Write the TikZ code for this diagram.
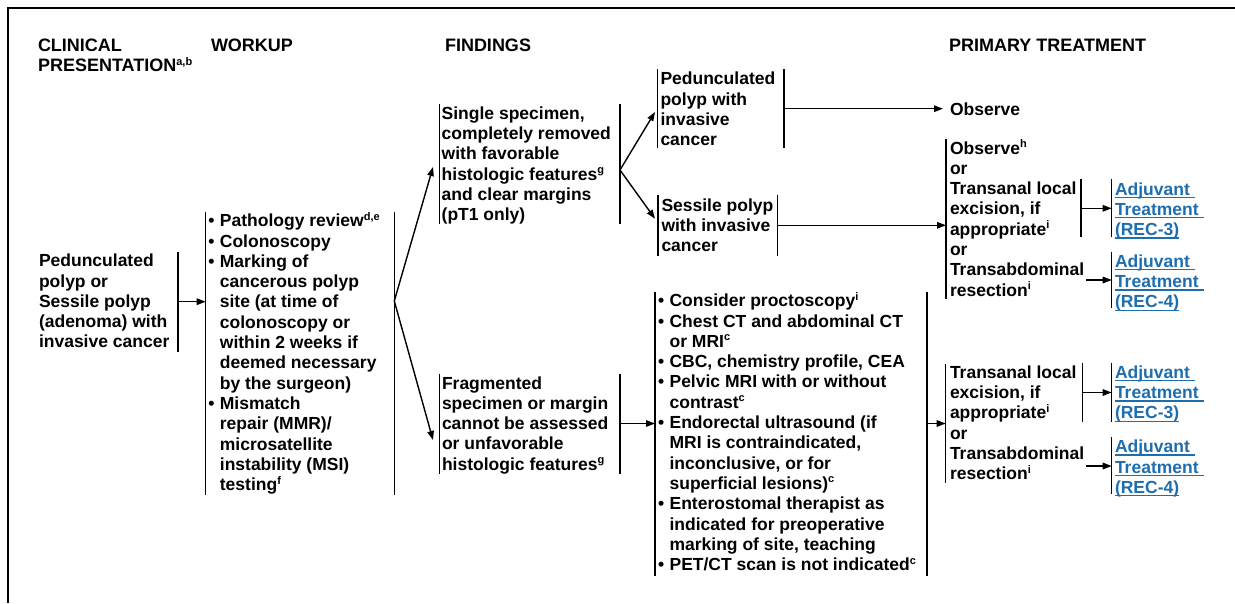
\documentclass[tikz,border=0pt]{standalone}
\usepackage{fontspec}
\setmainfont{Liberation Sans}
\usetikzlibrary{arrows.meta}
\definecolor{linkblue}{RGB}{30,110,175}
\newcommand\bodyfont{\fontsize{17.5}{20.3}\selectfont\bfseries}
\newcommand\hdrfont{\fontsize{18}{20.3}\selectfont\bfseries}
% raised small letters for footnote marks
\newcommand\sps[1]{\raisebox{6.6pt}{\fontsize{11}{11}\selectfont #1}}
% bullet and hanging indent for list lines
\newcommand\blt{\makebox[11.6pt][l]{•}}
\newcommand\hng{\hspace*{11.6pt}}
% a block of lines with a fixed line pitch; baseline = first line
\newcommand\txtlines[1]{\begin{minipage}[t]{330pt}\lineskiplimit=-\maxdimen\lineskip=0pt\relax #1\end{minipage}}
% underlined link text, rule at a fixed depth below the baseline
\newcommand\lk[1]{\leavevmode\setbox0=\hbox{#1}\rlap{\rule[-3pt]{\wd0}{1.3pt}}\box0}

\tikzset{
  bar/.style={draw, line width=1.4pt},
  arr/.style={draw, line width=1.4pt, -{Triangle[length=9pt,width=6.5pt]}},
  bx/.style={rectangle, inner sep=0pt, outer sep=0pt, anchor=north west},
  lrbox/.style={bx, append after command={(\tikzlastnode.north west) edge[bar] (\tikzlastnode.south west)
      (\tikzlastnode.north east) edge[bar] (\tikzlastnode.south east)}},
  lbox/.style={bx, append after command={(\tikzlastnode.north west) edge[bar] (\tikzlastnode.south west)}},
  rbox/.style={bx, append after command={(\tikzlastnode.north east) edge[bar] (\tikzlastnode.south east)}},
  txt/.style={anchor=base west, inner sep=0pt, outer sep=0pt, font=\bodyfont},
  hdr/.style={anchor=base west, inner sep=0pt, outer sep=0pt, font=\hdrfont},
  link/.style={txt, text=linkblue},
}

\begin{document}
\begin{tikzpicture}[x=1pt, y=-1pt]
\useasboundingbox (0,0) rectangle (1235,603);

% page frame
\draw[line width=2.2pt] (1235,8) -- (8,8) -- (8,603);

% column headings
\node[hdr] (hclin) at (38,51.5) {\txtlines{CLINICAL\\PRESENTATION\sps{a,b}}};
\node[hdr] (hwork) at (211,51.5) {WORKUP};
\node[hdr] (hfind) at (445,51.5) {FINDINGS};
\node[hdr] (htreat) at (949,51.5) {PRIMARY TREATMENT};

% bracket boxes
\node[rbox, minimum width=142pt, minimum height=100pt] (clin) at (36,251.7) {};
\node[lrbox, minimum width=188.6pt, minimum height=283.3pt] (wk1) at (205.7,211.7) {};
\node[lrbox, minimum width=180.7pt, minimum height=120pt] (fd1) at (439.3,104) {};
\node[lrbox, minimum width=180.5pt, minimum height=100pt] (fd2) at (439.5,373.5) {};
\node[lrbox, minimum width=126.7pt, minimum height=78.7pt] (ped) at (657.3,69.3) {};
\node[lrbox, minimum width=119.3pt, minimum height=61.3pt] (ses) at (658,194.7) {};
\node[lrbox, minimum width=272pt, minimum height=284.3pt] (wk2) at (655,291.7) {};
\node[lbox, minimum width=130pt, minimum height=160pt] (tr1) at (946,139.3) {};
\node[rbox, minimum width=131pt, minimum height=58pt] (tl1) at (950,179.3) {};
\node[lbox, minimum width=100pt, minimum height=58pt] (r3a) at (1111.7,179.3) {};
\node[lbox, minimum width=100pt, minimum height=56.6pt] (r4a) at (1111.7,251.7) {};
\node[lbox, minimum width=130pt, minimum height=119.3pt] (tr2) at (945.7,364) {};
\node[rbox, minimum width=132.7pt, minimum height=58.4pt] (tl2) at (950,363.3) {};
\node[lbox, minimum width=100pt, minimum height=58.4pt] (r3b) at (1111.7,363.3) {};
\node[lbox, minimum width=100pt, minimum height=56.7pt] (r4b) at (1111.7,437.3) {};

% texts
\node[txt] (clint) at (39,266.7) {\txtlines{Pedunculated\\polyp or\\Sessile polyp\\(adenoma) with\\invasive cancer}};
\node[txt] (wk1t) at (208.3,226.7) {\txtlines{\blt Pathology review\sps{d,e}\\
  \blt Colonoscopy\\
  \blt Marking of\\\hng cancerous polyp\\\hng site (at time of\\\hng colonoscopy or\\
  \hng within 2 weeks if\\\hng deemed necessary\\\hng by the surgeon)\\
  \blt Mismatch\\\hng repair (MMR)/\\\hng microsatellite\\\hng instability (MSI)\\\hng testing\sps{f}}};
\node[txt] (fd1t) at (441.7,119.3) {\txtlines{Single specimen,\\completely removed\\with favorable\\histologic features\sps{g}\\and clear margins\\(pT1 only)}};
\node[txt] (fd2t) at (442,389) {\txtlines{Fragmented\\specimen or margin\\cannot be assessed\\or unfavorable\\histologic features\sps{g}}};
\node[txt] (pedt) at (660.5,84.7) {\txtlines{Pedunculated\\polyp with\\invasive\\cancer}};
\node[txt] (sest) at (661.5,211.3) {\txtlines{Sessile polyp\\with invasive\\cancer}};
\node[txt] (wk2t) at (658,306.7) {\txtlines{\blt Consider proctoscopy\sps{i}\\
  \blt Chest CT and abdominal CT\\\hng or MRI\sps{c}\\
  \blt CBC, chemistry profile, CEA\\
  \blt Pelvic MRI with or without\\\hng contrast\sps{c}\\
  \blt Endorectal ultrasound (if\\\hng MRI is contraindicated,\\\hng inconclusive, or for\\\hng superficial lesions)\sps{c}\\
  \blt Enterostomal therapist as\\\hng indicated for preoperative\\\hng marking of site, teaching\\
  \blt PET/CT scan is not indicated\sps{c}}};
\node[txt] (obs) at (950,115) {Observe};
\node[txt] (tr1t) at (950,154) {\txtlines{Observe\sps{h}\\or\\Transanal local\\excision, if\\appropriate\sps{i}\\or\\Transabdominal\\resection\sps{i}}};
\node[txt] (tr2t) at (950,378.3) {\txtlines{Transanal local\\excision, if\\appropriate\sps{i}\\or\\Transabdominal\\resection\sps{i}}};
\node[link] (r3at) at (1115,195) {\txtlines{\lk{Adjuvant\ }\\\lk{Treatment\ }\\\lk{(REC-3)}}};
\node[link] (r4at) at (1115,267.3) {\txtlines{\lk{Adjuvant\ }\\\lk{Treatment\ }\\\lk{(REC-4)}}};
\node[link] (r3bt) at (1115,378.3) {\txtlines{\lk{Adjuvant\ }\\\lk{Treatment\ }\\\lk{(REC-3)}}};
\node[link] (r4bt) at (1115,452.7) {\txtlines{\lk{Adjuvant\ }\\\lk{Treatment\ }\\\lk{(REC-4)}}};

% connector ends
\coordinate (fan1) at (wk1.east |- 0,301);
\coordinate (fd1in) at (433,167);
\coordinate (fd2in) at (433,440);
\coordinate (fan2) at (fd1.east |- 0,170);
\coordinate (pedin) at (655,112);
\coordinate (sesin) at (655,218.7);
\coordinate (obsin) at (943,108.7);
\coordinate (tab1) at (1086,280);
\coordinate (tab2) at (1086,466);

% connectors
\draw[arr] (clin.east) -- (clin.east -| wk1.west);
\draw[arr] (fan1) -- (fd1in);
\draw[arr] (fan1) -- (fd2in);
\draw[arr] (fan2) -- (pedin);
\draw[arr] (fan2) -- (sesin);
\draw[arr] (ped.east |- obsin) -- (obsin);
\draw[arr] (ses.east |- 0,225.3) -- (tr1.west |- 0,225.3);
\draw[arr] (fd2.east) -- (fd2.east -| wk2.west);
\draw[arr] (wk2.east |- fd2.east) -- (tr2.west |- fd2.east);
\draw[arr] (tl1.east) -- (tl1.east -| r3a.west);
\draw[arr] (tab1) -- (tab1 -| r4a.west);
\draw[arr] (tl2.east) -- (tl2.east -| r3b.west);
\draw[arr] (tab2) -- (tab2 -| r4b.west);
\end{tikzpicture}
\end{document}
